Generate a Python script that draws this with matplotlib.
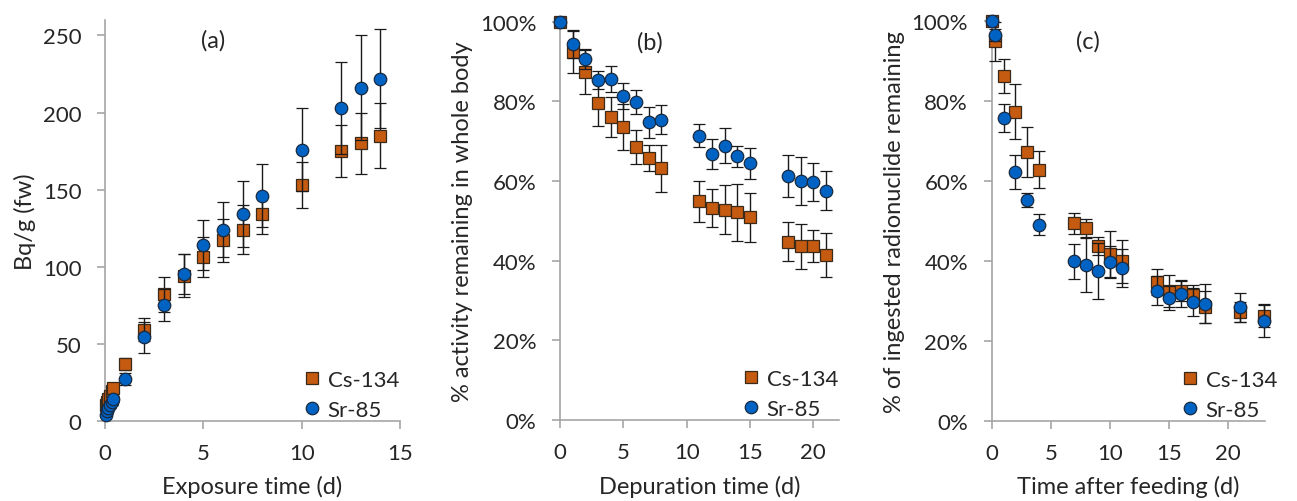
import matplotlib
matplotlib.use('Agg')
import matplotlib.pyplot as plt
from matplotlib.ticker import PercentFormatter
from matplotlib.lines import Line2D

plt.rcParams['font.family'] = ['Lato', 'DejaVu Sans']

# (a) uptake
a_time = [0.04, 0.08, 0.17, 0.25, 0.33, 0.42, 1, 2, 3, 4, 5, 6, 7, 8, 10, 12, 13, 14]
a_cs = [10, 12, 14, 16, 19, 21, 37, 59, 82, 94, 106, 117, 124, 134, 153, 175, 180, 185]
a_cs_err = [2, 2, 2, 2, 2, 2, 4, 7.5, 11.5, 14, 13, 14, 16, 13, 15, 17, 20, 21]
a_sr = [4, 6, 8, 10, 12, 14, 27, 54, 75, 95, 114, 124, 134, 146, 176, 203, 216, 222]
a_sr_err = [1, 1, 1, 2, 2, 2, 4, 10, 10.5, 13, 16, 18, 21.6, 20.5, 27, 30, 34, 32]

# (b) depuration, % remaining in whole body
b_time = [0, 1, 2, 3, 4, 5, 6, 7, 8, 11, 12, 13, 14, 15, 18, 19, 20, 21]
b_cs = [100, 92.5, 87.3, 79.6, 76, 73.6, 68.5, 65.8, 63.2, 54.9, 53.2, 52.8, 52.1, 50.9, 44.8, 43.6, 43.6, 41.4]
b_cs_err = [0, 5.4, 5.5, 5.9, 5, 5.7, 4.3, 3.3, 5.9, 5.1, 4.8, 6.1, 7.1, 6.1, 4.8, 5.7, 4, 5.6]
b_sr = [100, 94.3, 90.6, 85.4, 85.6, 81.4, 79.9, 74.7, 75.4, 71.4, 66.8, 68.9, 66.2, 64.4, 61.3, 60.1, 59.8, 57.6]
b_sr_err = [0, 3.4, 2.5, 2.3, 3.3, 3.2, 3, 4, 3.7, 2.8, 3.8, 4.5, 2.7, 3.8, 5.3, 6, 4.7, 5]

# (c) after single feeding, % of ingested radionuclide remaining
c_time = [0, 0.25, 1, 2, 3, 4, 7, 8, 9, 10, 11, 14, 15, 16, 17, 18, 21, 23]
c_cs = [100, 94.8, 86.2, 77.2, 67.2, 62.7, 49.3, 48.1, 43.6, 41.7, 39.8, 34.6, 32.4, 32.5, 31.4, 28.3, 27.1, 26.1]
c_cs_err = [0, 4.8, 4.2, 6.9, 6.3, 4.6, 2.7, 2.3, 2.2, 5.7, 5.4, 3.3, 4, 2.5, 2.5, 4, 2.5, 2.7]
c_sr = [100, 96.5, 75.6, 62.1, 55.2, 49, 39.8, 38.9, 37.3, 39.6, 38.1, 32.5, 30.7, 31.7, 29.6, 29.2, 28.3, 25]
c_sr_err = [0, 1.5, 3.5, 4.2, 1.7, 2.7, 4.4, 6.7, 7, 4, 4.7, 3.7, 3, 3.4, 3.5, 4.9, 3.6, 4.2]

CS_COLOR = '#C55A11'
SR_COLOR = '#0063C4'
AXIS_GRAY = '#A6A6A6'
TEXT = '#262626'
FS = 17
TICK_FS = 16

cs_style = dict(marker='s', ms=8.5, mfc=CS_COLOR, mec='#3a2a1a', mew=0.9, ls='none')
sr_style = dict(marker='o', ms=9, mfc=SR_COLOR, mec='#1a2a40', mew=0.9, ls='none')


def draw_panel(ax, t, cs, cs_err, sr, sr_err, xlim, ylim, xticks, yticks,
               xlabel, ylabel, tag, tag_x, pct, leg_x):
    ax.errorbar(t, cs, yerr=cs_err, ecolor='#1a1a1a', elinewidth=1, capsize=4.5,
                capthick=1, clip_on=False, zorder=3, **cs_style)
    ax.errorbar(t, sr, yerr=sr_err, ecolor='#1a1a1a', elinewidth=1, capsize=4.5,
                capthick=1, clip_on=False, zorder=4, **sr_style)
    ax.set_xlim(*xlim)
    ax.set_ylim(*ylim)
    ax.set_xticks(xticks)
    ax.set_yticks(yticks)
    if pct:
        ax.yaxis.set_major_formatter(PercentFormatter(100, decimals=0))
    for s in ['top', 'right']:
        ax.spines[s].set_visible(False)
    for s in ['left', 'bottom']:
        ax.spines[s].set_color(AXIS_GRAY)
        ax.spines[s].set_linewidth(1.2)
    ax.tick_params(axis='both', direction='out', length=6, width=1.2, color=AXIS_GRAY,
                   labelsize=TICK_FS, labelcolor=TEXT)
    ax.tick_params(axis='x', pad=10)
    ax.tick_params(axis='y', pad=11)
    ax.set_xlabel(xlabel, fontsize=FS, color=TEXT, labelpad=9)
    ax.set_ylabel(ylabel, fontsize=FS, color=TEXT, labelpad=5)
    ax.text(tag_x, 0.95, tag, transform=ax.transAxes, fontsize=FS, color=TEXT,
            ha='center', va='center')
    handles = [Line2D([], [], **cs_style), Line2D([], [], **sr_style)]
    leg = ax.legend(handles, ['Cs-134', 'Sr-85'], loc='lower right',
                    bbox_to_anchor=(leg_x, -0.02), frameon=False, fontsize=TICK_FS,
                    handletextpad=0.15, borderaxespad=0.0, labelspacing=0.45,
                    handlelength=1.1)
    for txt in leg.get_texts():
        txt.set_color(TEXT)


fig = plt.figure(figsize=(12.97, 5.02), dpi=100)
ax_a = fig.add_axes([0.081, 0.16, 0.2274, 0.798])
ax_b = fig.add_axes([0.4318, 0.1614, 0.2148, 0.7934])
ax_c = fig.add_axes([0.7646, 0.16, 0.2107, 0.7968])

draw_panel(ax_a, a_time, a_cs, a_cs_err, a_sr, a_sr_err, (0, 15), (0, 260),
           [0, 5, 10, 15], [0, 50, 100, 150, 200, 250],
           'Exposure time (d)', 'Bq/g (fw)', '(a)', 0.366, False, 1.027)
draw_panel(ax_b, b_time, b_cs, b_cs_err, b_sr, b_sr_err, (0, 22), (0, 100),
           [0, 5, 10, 15, 20], [0, 20, 40, 60, 80, 100],
           'Depuration time (d)', '% activity remaining in whole body', '(b)', 0.323, True, 1.03)
draw_panel(ax_c, c_time, c_cs, c_cs_err, c_sr, c_sr_err, (0, 23.1), (0, 100),
           [0, 5, 10, 15, 20], [0, 20, 40, 60, 80, 100],
           'Time after feeding (d)', '% of ingested radionuclide remaining', '(c)', 0.353, True, 1.077)

fig.savefig('out.png', dpi=100)
